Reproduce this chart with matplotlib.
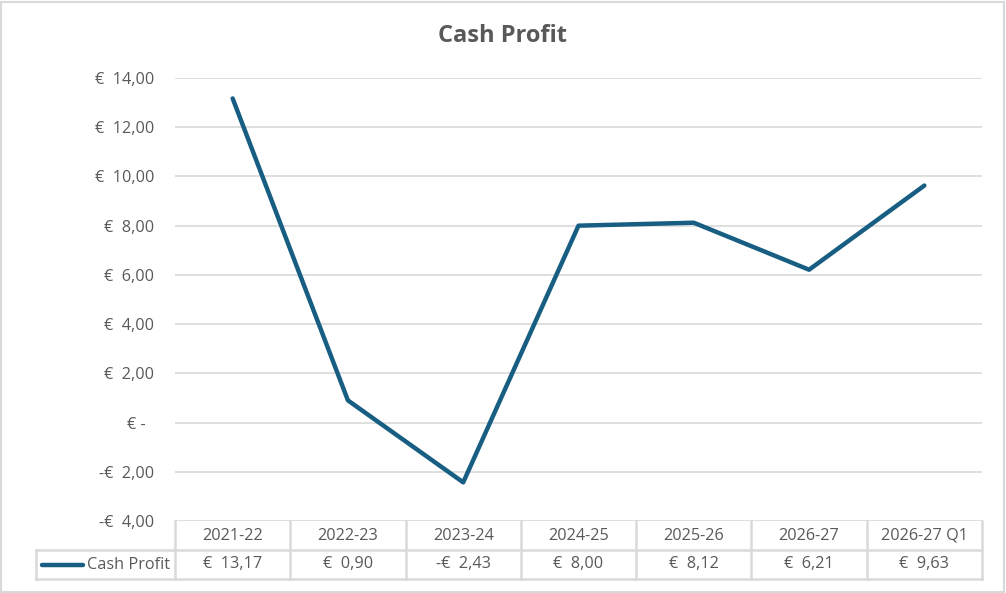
import matplotlib
matplotlib.use("Agg")
import matplotlib.pyplot as plt
from matplotlib.lines import Line2D
from matplotlib.patches import Rectangle

categories = ["2021-22", "2022-23", "2023-24", "2024-25", "2025-26", "2026-27", "2026-27 Q1"]
values = [13.17, 0.90, -2.43, 8.00, 8.12, 6.21, 9.63]
series_name = "Cash Profit"
title = "Cash Profit"
yticks = [-4, -2, 0, 2, 4, 6, 8, 10, 12, 14]

LINE = "#175E82"
GRID = "#D9D9D9"
TEXT = "#595959"
FONT = ["Open Sans", "DejaVu Sans"]
plt.rcParams['font.family'] = FONT
FS = 11.7


def eur(v):
    if abs(v) < 1e-9:
        return "€ -  "
    s = f"{abs(v):,.2f}".replace(",", "X").replace(".", ",").replace("X", ".")
    return ("-€  " if v < 0 else "€  ") + s


W, H = 1006, 593
fig = plt.figure(figsize=(W / 100, H / 100), dpi=100)

L, R, T, B = 175, 982, 78, 521
ax = fig.add_axes([L / W, 1 - B / H, (R - L) / W, (B - T) / H])

x = list(range(len(categories)))
ax.plot(x, values, color=LINE, lw=3.2, solid_capstyle="round", solid_joinstyle="round", zorder=3)
ax.set_xlim(-0.5, len(categories) - 0.5)
ax.set_ylim(-4, 14)
ax.set_yticks(yticks)
ax.set_yticklabels([eur(v) for v in yticks], fontsize=FS, color=TEXT)
ax.tick_params(axis="y", length=0, pad=15)
ax.set_xticks([])
for s in ax.spines.values():
    s.set_visible(False)
ax.grid(axis="y", color=GRID, lw=1.2)
ax.set_axisbelow(True)

fig.text(503 / W, 1 - 36 / H, title, ha="center", va="center", fontsize=17,
         fontweight="bold", color=TEXT)

# data table
def fx(px):
    return px / W

def fy(py):
    return 1 - py / H

row1, row2, row3 = 521, 550, 579
colw = (R - L) / len(categories)
lines = []
lines.append(((L, R), (row2, row2)))
lines.append(((36, R), (row3, row3)))
lines.append(((36, L), (row2, row2)))
lines.append(((36, 36), (row2, row3)))
for i in range(len(categories) + 1):
    xp = L + i * colw
    lines.append(((xp, xp), (row1, row3)))
for (xs, ys) in lines:
    fig.add_artist(Line2D([fx(xs[0]), fx(xs[1])], [fy(ys[0]), fy(ys[1])],
                          color=GRID, lw=1.8, transform=fig.transFigure))

xt = ax.get_xaxis_transform()
h_ax = B - T
for i, (c, v) in enumerate(zip(categories, values)):
    ax.text(i, -((row1 + row2) / 2 - B) / h_ax, c, transform=xt, ha="center",
            va="center", fontsize=FS, color=TEXT, clip_on=False)
    ax.text(i, -((row2 + row3) / 2 - B) / h_ax, eur(v), transform=xt, ha="center",
            va="center", fontsize=FS, color=TEXT, clip_on=False)

fig.add_artist(Line2D([fx(42), fx(83)], [fy(565), fy(565)], color=LINE, lw=3.2,
                      solid_capstyle="round", transform=fig.transFigure))
fig.text(fx(87), fy(565), series_name, ha="left", va="center", fontsize=FS, color=TEXT)

# outer border
fig.add_artist(Rectangle((0.5 / W, 1.5 / H), (W - 3) / W, (H - 3) / H, fill=False,
                         edgecolor=GRID, lw=1.5, transform=fig.transFigure))

fig.savefig("out.png", dpi=100, facecolor="white")
